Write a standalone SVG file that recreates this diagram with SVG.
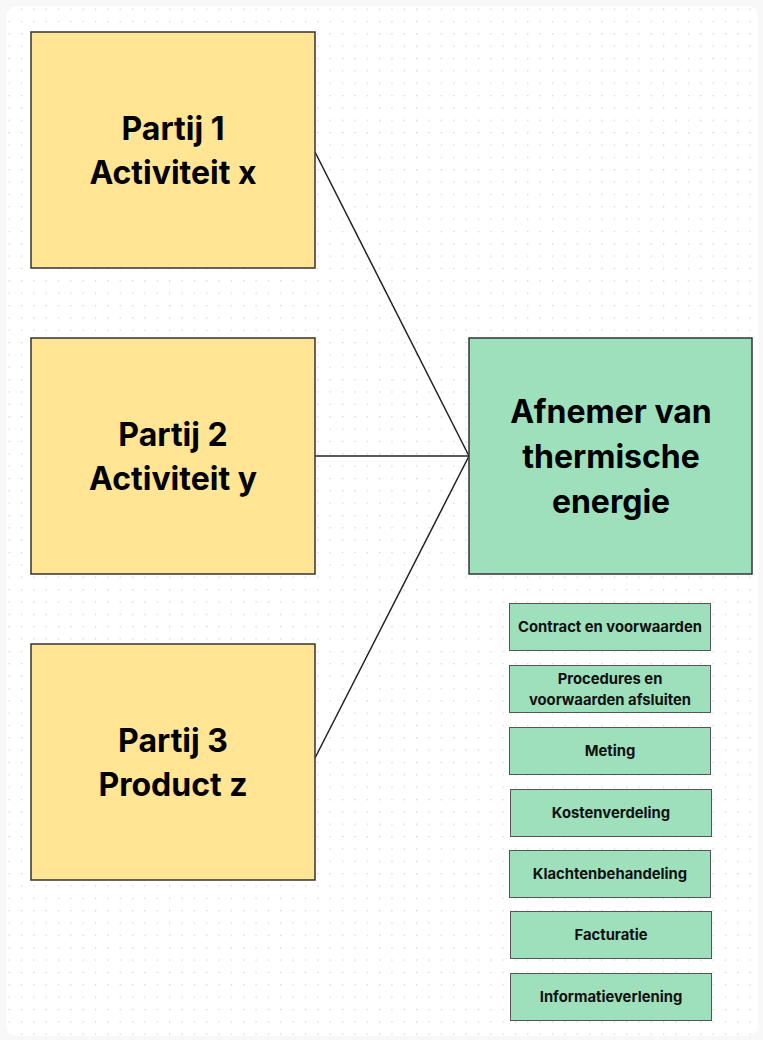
<svg xmlns="http://www.w3.org/2000/svg" width="763" height="1040" viewBox="0 0 763 1040">
<defs>
<pattern id="dots" x="8.5" y="8.5" width="12.35" height="12.35" patternUnits="userSpaceOnUse">
<circle cx="0.6" cy="0.6" r="0.75" fill="#d2d2d2"/>
</pattern>
<style>
.big{font-family:Inter,"Liberation Sans",sans-serif;font-weight:700;font-size:32px;fill:#000;text-anchor:middle}
.small{font-family:Inter,"Liberation Sans",sans-serif;font-weight:700;font-size:14.8px;fill:#111;text-anchor:middle}
.yel{fill:#ffe594;stroke:#333;stroke-width:1.5}
.grn{fill:#9ee0bc;stroke:#333;stroke-width:1.5}
.sg{fill:#9ee0bc;stroke:#555;stroke-width:1}
.con{stroke:#222;stroke-width:1.5;fill:none}
</style>
</defs>
<rect width="763" height="1040" fill="#f8f8f8"/>
<rect x="6" y="6" width="752" height="1030" rx="10" fill="#ffffff"/>
<rect x="6" y="6" width="752" height="1030" rx="10" fill="url(#dots)"/>
<g id="connectors">
<line class="con" x1="315" y1="152" x2="469" y2="456"/>
<line class="con" x1="315" y1="456" x2="469" y2="456"/>
<line class="con" x1="315" y1="758" x2="469" y2="456"/>
</g>
<g id="partij1">
<rect class="yel" x="31" y="32" width="284" height="236"/>
<text class="big" x="173" y="140">Partij 1</text>
<text class="big" x="173" y="184">Activiteit x</text>
</g>
<g id="partij2">
<rect class="yel" x="31" y="338" width="284" height="236"/>
<text class="big" x="173" y="446">Partij 2</text>
<text class="big" x="173" y="490">Activiteit y</text>
</g>
<g id="partij3">
<rect class="yel" x="31" y="644" width="284" height="236"/>
<text class="big" x="173" y="752">Partij 3</text>
<text class="big" x="173" y="796">Product z</text>
</g>
<g id="afnemer">
<rect class="grn" x="469" y="338" width="283" height="236"/>
<text class="big" x="611" y="423">Afnemer van</text>
<text class="big" x="611" y="468">thermische</text>
<text class="big" x="611" y="513">energie</text>
</g>
<g id="contract">
<rect class="sg" x="509.5" y="603.5" width="201" height="47"/>
<text class="small" x="610" y="632">Contract en voorwaarden</text>
</g>
<g id="procedures">
<rect class="sg" x="509.5" y="665.5" width="201" height="47"/>
<text class="small" x="610" y="684">Procedures en</text>
<text class="small" x="610" y="705">voorwaarden afsluiten</text>
</g>
<g id="meting">
<rect class="sg" x="509.5" y="727.5" width="201" height="47"/>
<text class="small" x="610" y="756">Meting</text>
</g>
<g id="kostenverdeling">
<rect class="sg" x="510.5" y="789.5" width="201" height="47"/>
<text class="small" x="611" y="818">Kostenverdeling</text>
</g>
<g id="klachtenbehandeling">
<rect class="sg" x="509.5" y="850.5" width="201" height="47"/>
<text class="small" x="610" y="879">Klachtenbehandeling</text>
</g>
<g id="facturatie">
<rect class="sg" x="510.5" y="911.5" width="201" height="47"/>
<text class="small" x="611" y="940">Facturatie</text>
</g>
<g id="informatieverlening">
<rect class="sg" x="510.5" y="973.5" width="201" height="47"/>
<text class="small" x="611" y="1002">Informatieverlening</text>
</g>
</svg>
